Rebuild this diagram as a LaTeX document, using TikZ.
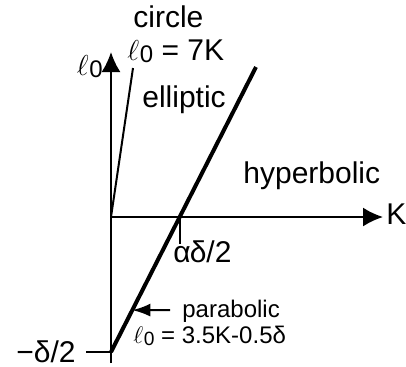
\documentclass[tikz,border=0pt]{standalone}
\usepackage{fontspec}
\setmainfont{Liberation Sans}
\usetikzlibrary{positioning, calc, arrows.meta}
\tikzset{
  %% axes with big filled heads
  axis/.style={
    -{Latex[length=10pt,width=9.5pt]},
    line width=1pt
  },
  %% plain tick / thin ray
  tick/.style={line width=1pt},
  ray/.style={line width=1pt},
  %% the heavy boundary line
  bound/.style={line width=2pt},
  %% small pointer arrow
  arr/.style={
    -{Latex[length=9pt,width=6.5pt]},
    line width=1pt
  },
  lbl/.style={
    font=\fontsize{15}{18}\selectfont,
    inner sep=0pt
  },
  lblS/.style={         % smaller label (parabolic case)
    font=\fontsize{12}{14}\selectfont,
    inner sep=0pt
  }
}
\newcommand{\ellz}{$\ell$\kern0.3pt\raisebox{-1pt}{\fontsize{0.8em}{1em}\selectfont 0}}

\begin{document}
\begin{tikzpicture}[x=0.5pt, y=-0.5pt]
\useasboundingbox (0,0) rectangle (406,366);

%% ═══════════════════════════════════════════════════════════
%%  AXES
%% ═══════════════════════════════════════════════════════════

\coordinate (O)    at (111,217);
\coordinate (ybot) at (111,363);
\coordinate (ytop) at (111,52);
\coordinate (xend) at (383,217);

\draw[axis] (ybot) -- (ytop);
\draw[axis] (O) -- (xend);

\node[lbl, anchor=base east] (lz) at (103,75) {\ellz};
\node[lbl, anchor=base west] (K) at (386,224) {K};

%% ═══════════════════════════════════════════════════════════
%%  PARABOLIC LINE  and  CIRCLE RAY
%% ═══════════════════════════════════════════════════════════

\coordinate (pbot) at (111,352);
\coordinate (ptop) at (256,67);
\draw[bound] (pbot) -- (ptop);

\coordinate (ctop) at (133,68);
\draw[ray] (O) -- (ctop);

%% ═══════════════════════════════════════════════════════════
%%  TICKS
%% ═══════════════════════════════════════════════════════════

\coordinate (cross) at (180,217);
\coordinate (tickA) at (180,244);
\draw[tick] (cross) -- (tickA);
\node[lbl, anchor=base west] (adelta) at (173,262) {α\kern-0.5ptδ/2};

\coordinate (tickB) at (86,352);
\draw[tick] (tickB) -- (pbot);
\node[lbl, left=5pt of tickB] (mdelta) {−δ/2};

%% ═══════════════════════════════════════════════════════════
%%  REGION LABELS
%% ═══════════════════════════════════════════════════════════

\node[lbl, anchor=base west] (circ)   at (133,27)  {circle};
\node[lbl, anchor=base west] (circeq) at (127,60)  {\ellz\ = 7K};
\node[lbl, anchor=base west] (ell)    at (142,107) {elliptic};
\node[lbl, anchor=base west] (hyp)    at (243,183) {hyperbolic};

\node[lblS, anchor=base west] (parab)   at (182,317) {parabolic};
\node[lblS, anchor=base west] (parabeq) at (133,343) {\ellz\ = 3.5K-0.5δ};

\coordinate (pmark) at ($(pbot)!0.147!(ptop)$);
\draw[arr, shorten <=6pt] ([yshift=3.5pt]parab.base west) -- (pmark);

\end{tikzpicture}
\end{document}
